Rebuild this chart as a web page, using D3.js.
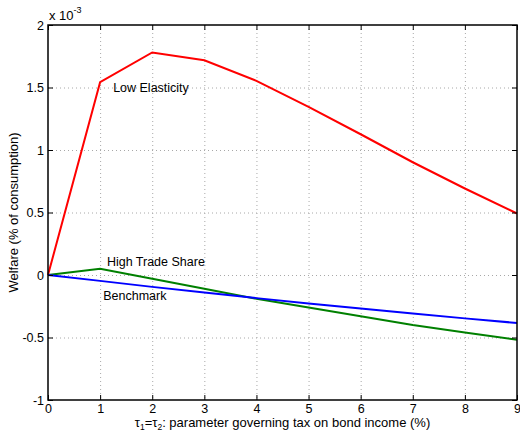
<!DOCTYPE html>
<html>
<head>
<meta charset="utf-8">
<script src="https://cdn.jsdelivr.net/npm/d3@7"></script>
<style>
  body { margin: 0; background: #fff; }
  svg { font-family: "Liberation Sans", Arial, sans-serif; }
</style>
</head>
<body>
<div id="chart"></div>
<script>
// data (welfare, units of 1e-3)
const taus = [0, 1, 2, 3, 4, 5, 6, 7, 8, 9];
const lowElasticity = [0, 1.542, 1.78, 1.718, 1.553, 1.345, 1.126, 0.902, 0.692, 0.492];
const highTradeShare = [0, 0.05, -0.03, -0.11, -0.19, -0.26, -0.33, -0.40, -0.46, -0.518];
const benchmark = [0, -0.047, -0.095, -0.14, -0.185, -0.228, -0.268, -0.308, -0.347, -0.384];
const xTicks = [0, 1, 2, 3, 4, 5, 6, 7, 8, 9];
const yTicks = [-1, -0.5, 0, 0.5, 1, 1.5, 2];

const seriesList = [
    {name: "Low Elasticity", values: lowElasticity, color: "#ff0000", lx: 1.25, ly: 1.464},
    {name: "High Trade Share", values: highTradeShare, color: "#008000", lx: 1.13, ly: 0.074},
    {name: "Benchmark", values: benchmark, color: "#0000ff", lx: 1.06, ly: -0.2}
];

const width = 520, height = 432;
const margin = {top: 25, right: 3, bottom: 32, left: 48};
const w = width - margin.left - margin.right;
const h = height - margin.top - margin.bottom;

const svg = d3.select("#chart").append("svg")
    .attr("width", width)
    .attr("height", height);

const g = svg.append("g")
    .attr("transform", "translate(" + margin.left + "," + margin.top + ")");

const x = d3.scaleLinear().domain([0, 9]).range([0, w]);
const y = d3.scaleLinear().domain([-1, 2]).range([h, 0]);

// grid
g.append("g").selectAll("line.gx")
    .data(xTicks.slice(1, -1))
    .enter().append("line")
    .attr("x1", d => x(d) + 0.5).attr("x2", d => x(d) + 0.5)
    .attr("y1", 0).attr("y2", h)
    .attr("stroke", "#a8a8a8").attr("stroke-width", 1)
    .attr("stroke-dasharray", "1,3");

g.append("g").selectAll("line.gy")
    .data(yTicks.slice(1, -1))
    .enter().append("line")
    .attr("y1", d => y(d) + 0.5).attr("y2", d => y(d) + 0.5)
    .attr("x1", 0).attr("x2", w)
    .attr("stroke", "#a8a8a8").attr("stroke-width", 1)
    .attr("stroke-dasharray", "1,3");

// lines
const line = d3.line()
    .x((d, i) => x(taus[i]))
    .y(d => y(d));

seriesList.forEach(s => {
    g.append("path")
        .datum(s.values)
        .attr("fill", "none")
        .attr("stroke", s.color)
        .attr("stroke-width", 2)
        .attr("d", line);
    g.append("text")
        .attr("x", x(s.lx))
        .attr("y", y(s.ly))
        .attr("font-size", 12.5)
        .attr("fill", "#000")
        .text(s.name);
});

// axes, matlab style: ticks inward, box around, plain hyphen minus
const xAxis = d3.axisBottom(x).tickValues(xTicks).tickSizeInner(-5).tickSizeOuter(0).tickPadding(4);
const yAxis = d3.axisLeft(y).tickValues(yTicks).tickSizeInner(-5).tickSizeOuter(0).tickPadding(4)
    .tickFormat(d => String(d));

const gx = g.append("g").attr("transform", "translate(0," + h + ")").call(xAxis);
const gy = g.append("g").call(yAxis);
g.append("g").call(d3.axisTop(x).tickValues(xTicks).tickSizeInner(-5).tickSizeOuter(0).tickFormat(""));
g.append("g").attr("transform", "translate(" + w + ",0)")
    .call(d3.axisRight(y).tickValues(yTicks).tickSizeInner(-5).tickSizeOuter(0).tickFormat(""));

g.selectAll(".domain").remove();
g.selectAll(".tick line").attr("stroke", "#000");
[gx, gy].forEach(a => a.selectAll("text")
    .attr("font-size", 12.5)
    .attr("font-family", "Liberation Sans, Arial, sans-serif")
    .attr("fill", "#000"));

g.append("rect")
    .attr("x", 0).attr("y", 0)
    .attr("width", w).attr("height", h)
    .attr("fill", "none")
    .attr("stroke", "#000")
    .attr("stroke-width", 1.5);

// exponent label
const expo = svg.append("text")
    .attr("x", margin.left + 1)
    .attr("y", 20)
    .attr("font-size", 13);
expo.append("tspan").text("x 10");
expo.append("tspan").attr("font-size", 9).attr("dy", -7).text("-3");

// y label
svg.append("text")
    .attr("transform", "translate(18," + (margin.top + h / 2) + ") rotate(-90)")
    .attr("text-anchor", "middle")
    .attr("font-size", 13)
    .text("Welfare (% of consumption)");

// x label with subscripts
const xl = svg.append("text")
    .attr("x", margin.left + w / 2)
    .attr("y", 427)
    .attr("text-anchor", "middle")
    .attr("font-size", 13);
xl.append("tspan").text("τ");
xl.append("tspan").attr("font-size", 8.5).attr("dy", 3).text("1");
xl.append("tspan").attr("dy", -3).text("=τ");
xl.append("tspan").attr("font-size", 8.5).attr("dy", 3).text("2");
xl.append("tspan").attr("dy", -3).text(": parameter governing tax on bond income (%)");
</script>
</body>
</html>
